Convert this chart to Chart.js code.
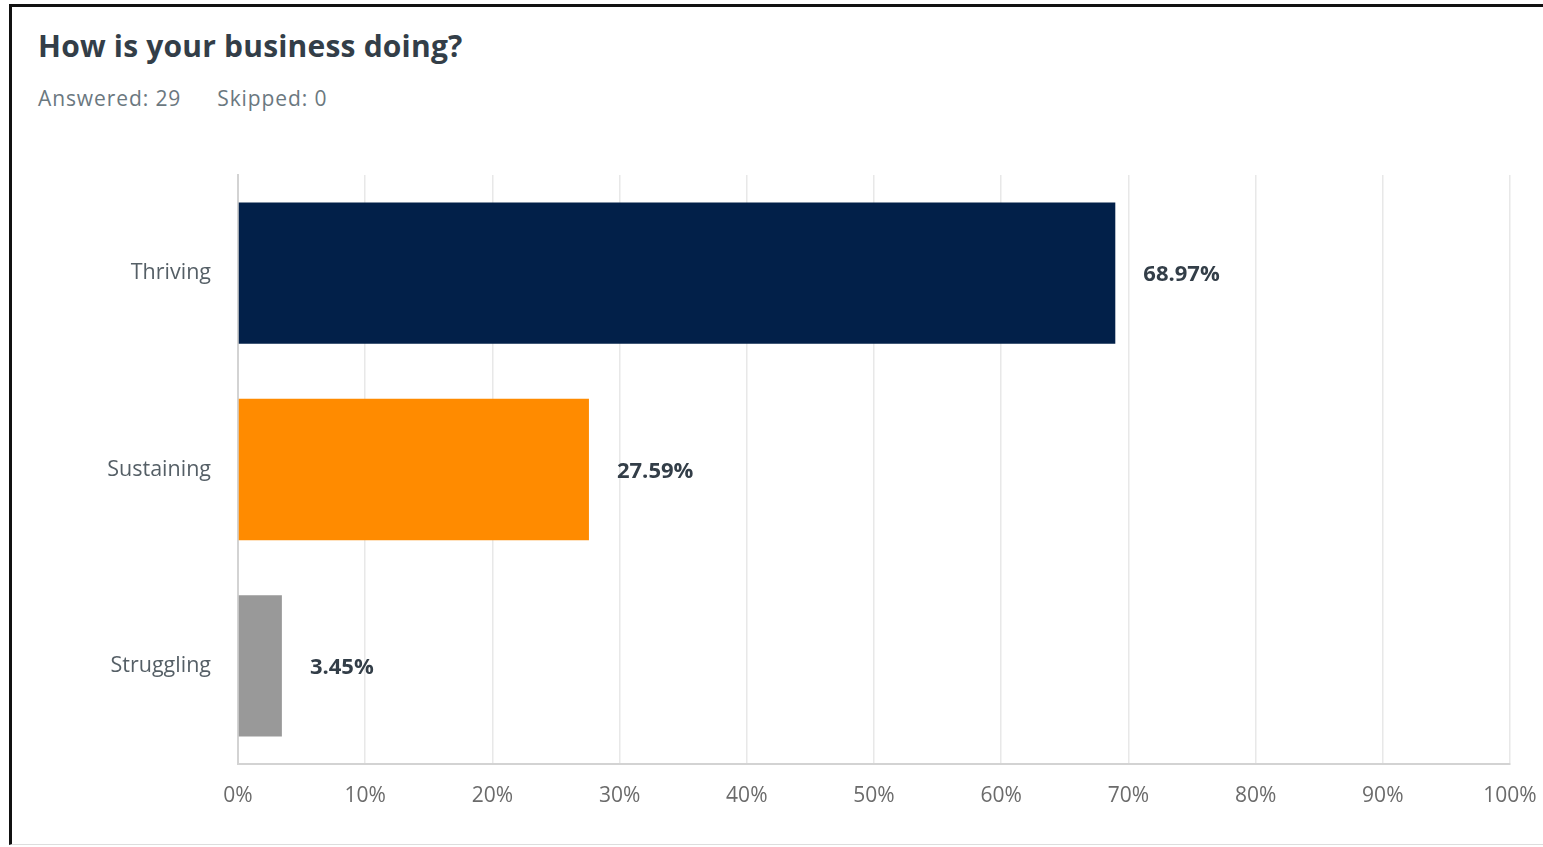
<!DOCTYPE html>
<html>
<head>
<meta charset="utf-8">
<script src="https://cdn.jsdelivr.net/npm/chart.js@4/dist/chart.umd.min.js"></script>
<style>
  html, body { margin: 0; padding: 0; background: #fff; }
  body { width: 1543px; height: 847px; position: relative; overflow: hidden; font-family: "Open Sans", sans-serif; }
  #frame { position: absolute; left: 9px; top: 4px; width: 1540px; height: 841px; border-top: 3px solid #111; border-left: 3px solid #111; border-bottom: 1px solid #ddd; box-sizing: border-box; }
  #title { position: absolute; left: 38px; top: 25px; font-size: 30px; font-weight: 700; color: #333e48; letter-spacing: 0.2px; white-space: nowrap; }
  #sub { position: absolute; left: 38px; top: 84px; font-size: 21px; letter-spacing: 0.9px; color: #6b787f; white-space: nowrap; }
  #sub span + span { margin-left: 36px; }
  #wrap { position: absolute; left: 0; top: 0; width: 1543px; height: 847px; }
</style>
</head>
<body>
<div id="frame"></div>
<div id="title">How is your business doing?</div>
<div id="sub"><span>Answered: 29</span><span>Skipped: 0</span></div>
<div id="wrap"><canvas id="c"></canvas></div>
<script>
const categories = ["Thriving", "Sustaining", "Struggling"];
const percentValues = [68.97, 27.59, 3.45];
const barColors = ["#022049", "#ff8b00", "#999999"];
const tickValues = [0, 10, 20, 30, 40, 50, 60, 70, 80, 90, 100];

const valueLabels = {
  id: "valueLabels",
  afterDatasetsDraw(chart) {
    const ctx = chart.ctx;
    const meta = chart.getDatasetMeta(0);
    ctx.save();
    ctx.font = "700 22px 'Open Sans', sans-serif";
    ctx.fillStyle = "#333e48";
    ctx.textAlign = "left";
    ctx.textBaseline = "middle";
    meta.data.forEach((bar, i) => {
      ctx.fillText(percentValues[i].toFixed(2) + "%", bar.x + 28, bar.y + 2);
    });
    ctx.restore();
  }
};

new Chart(document.getElementById("c"), {
  type: "bar",
  data: {
    labels: categories,
    datasets: [{
      data: percentValues,
      backgroundColor: barColors,
      borderWidth: 0,
      categoryPercentage: 1.0,
      barPercentage: 0.72
    }]
  },
  options: {
    indexAxis: "y",
    responsive: true,
    maintainAspectRatio: false,
    animation: false,
    layout: { padding: { left: 0, top: 175, right: 33, bottom: 0 } },
    plugins: { legend: { display: false }, tooltip: { enabled: false } },
    scales: {
      x: {
        min: 0, max: 100,
        afterBuildTicks(scale) { scale.ticks = tickValues.map(v => ({ value: v })); },
        afterFit(scale) { scale.height = 83; scale.paddingLeft = 0; scale.paddingRight = 0; },
        grid: { color: "#e8e8e8", lineWidth: 1.5, drawTicks: false },
        border: { display: true, color: "#d3d3d3", width: 2 },
        ticks: {
          padding: 19,
          color: "#6b6b6b",
          font: { family: "'Open Sans', sans-serif", size: 21 },
          callback: (v) => v + "%"
        }
      },
      y: {
        afterFit(scale) { scale.width = 238; scale.paddingTop = 0; scale.paddingBottom = 0; },
        grid: { display: false, drawTicks: false },
        border: { display: true, color: "#d3d3d3", width: 2 },
        ticks: {
          padding: 27,
          color: "#555f66",
          font: { family: "'Open Sans', sans-serif", size: 21.5 }
        }
      }
    }
  },
  plugins: [valueLabels]
});
</script>
</body>
</html>
